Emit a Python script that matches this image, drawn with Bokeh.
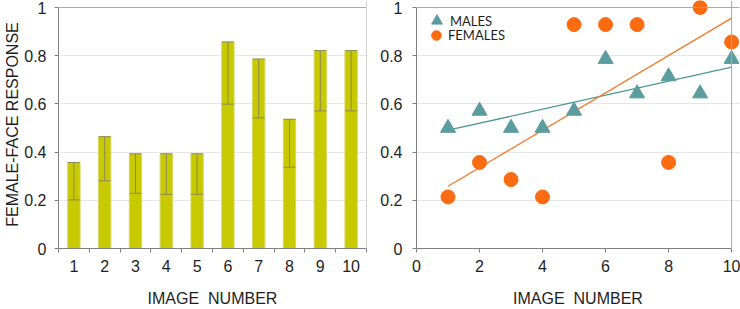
from bokeh.plotting import figure
from bokeh.layouts import row
from bokeh.models import (ColumnDataSource, Whisker, TeeHead, FixedTicker, Span, Legend)
from bokeh.embed import file_html
from bokeh.resources import INLINE
import numpy as np

# ---------------- data ----------------
images = [1, 2, 3, 4, 5, 6, 7, 8, 9, 10]
response = [0.357, 0.464, 0.393, 0.393, 0.393, 0.857, 0.786, 0.536, 0.821, 0.821]
response_low = [0.202, 0.281, 0.229, 0.225, 0.225, 0.599, 0.542, 0.337, 0.571, 0.571]

males = [0.5, 0.571, 0.5, 0.5, 0.571, 0.786, 0.643, 0.714, 0.643, 0.786]
females = [0.214, 0.357, 0.286, 0.214, 0.929, 0.929, 0.929, 0.357, 1.0, 0.857]

y_ticks = [0, 0.2, 0.4, 0.6, 0.8, 1]
y_labels = {0: "0", 0.2: "0.2", 0.4: "0.4", 0.6: "0.6", 0.8: "0.8", 1: "1"}
x_ticks_right = [0, 2, 4, 6, 8, 10]

# ---------------- styles ----------------
AXIS = "#808080"
BORDER = "#a8a8a8"
GRID = "#e6e6e6"
TXT = "#1e1e1e"
FONT = "Liberation Sans"
BAR = "#c9c900"
BAR_EDGE = "#d6d660"
ERR = "#8a8a58"
TEAL = "#5b9c9e"
TEAL_LINE = "#4f9696"
ORANGE = "#fb6b12"
ORANGE_LINE = "#f47a28"

Y_END = 1.029


def style_axes(p):
    for ax in (p.xaxis[0], p.yaxis[0]):
        ax.axis_line_color = AXIS
        ax.major_tick_line_color = AXIS
        ax.minor_tick_line_color = AXIS
        ax.major_label_text_font = FONT
        ax.major_label_text_font_size = "16px"
        ax.major_label_text_color = TXT
        ax.axis_label_text_font = FONT
        ax.axis_label_text_font_size = "16px"
        ax.axis_label_text_font_style = "normal"
        ax.axis_label_text_color = TXT
    p.yaxis.ticker = FixedTicker(ticks=y_ticks)
    p.yaxis.major_label_overrides = y_labels
    p.yaxis.bounds = (0, 1)
    p.yaxis.major_tick_out = 4
    p.yaxis.major_tick_in = 0
    p.yaxis.minor_tick_out = 0
    p.yaxis.major_label_standoff = 10
    p.xaxis.major_label_standoff = 7
    p.xaxis.axis_label_standoff = 15
    p.ygrid.grid_line_color = GRID
    p.xgrid.grid_line_color = None
    p.outline_line_color = None
    p.background_fill_color = "white"
    p.border_fill_color = "white"


# ---------------- left chart ----------------
p1 = figure(width=370, height=309, output_backend="svg", toolbar_location=None,
            x_range=(0.5, 10.5), y_range=(0, Y_END),
            min_border_left=58, min_border_right=4, min_border_top=0, min_border_bottom=61)
src = ColumnDataSource(dict(x=images, top=response, low=response_low))
p1.vbar(x="x", top="top", width=0.4, source=src, fill_color=BAR, line_color=BAR_EDGE, line_width=1)
p1.add_layout(Whisker(base="x", upper="top", lower="low", source=src, line_color=ERR, line_width=1,
                      level="overlay",
                      upper_head=TeeHead(size=12, line_color=ERR, line_width=1),
                      lower_head=TeeHead(size=12, line_color=ERR, line_width=1)))
style_axes(p1)
p1.xaxis.ticker = FixedTicker(ticks=images, minor_ticks=[i + 0.5 for i in range(0, 11)])
p1.xaxis.major_tick_out = 0
p1.xaxis.major_tick_in = 0
p1.xaxis.minor_tick_out = 4
p1.xaxis.minor_tick_in = 0
p1.xaxis.bounds = (0.5, 10.5)
p1.xaxis.axis_label = "IMAGE\u00a0 NUMBER"
p1.yaxis.axis_label = "FEMALE-FACE RESPONSE"
p1.yaxis.axis_label_text_font_size = "16px"
p1.yaxis.major_label_standoff = 8
p1.yaxis.axis_label_standoff = 0
p1.add_layout(Span(location=1, dimension="width", line_color=BORDER, line_width=1))
p1.add_layout(Span(location=10.5, dimension="height", line_color=BORDER, line_width=1))

# ---------------- right chart ----------------
p2 = figure(width=370, height=309, output_backend="svg", toolbar_location=None,
            x_range=(0, 10.25), y_range=(0, Y_END),
            min_border_left=46, min_border_right=1, min_border_top=0, min_border_bottom=61)
style_axes(p2)
p2.xaxis.ticker = FixedTicker(ticks=x_ticks_right)
p2.xaxis.major_tick_out = 4
p2.xaxis.major_tick_in = 0
p2.xaxis.minor_tick_out = 0
p2.xaxis.bounds = (0, 10)
p2.xaxis.axis_label = "IMAGE\u00a0 NUMBER"
p2.add_layout(Span(location=1, dimension="width", line_color=BORDER, line_width=1))
p2.add_layout(Span(location=10, dimension="height", line_color=BORDER, line_width=1))

xa = np.array(images, dtype=float)
mm, mb = np.polyfit(xa, np.array(males), 1)
fm, fb = np.polyfit(xa, np.array(females), 1)
xl = [images[0], images[-1]]
p2.line(xl, [mm * v + mb for v in xl], line_color=TEAL_LINE, line_width=1.3)
p2.line(xl, [fm * v + fb for v in xl], line_color=ORANGE_LINE, line_width=1.3)

r_m = p2.scatter(images, males, marker="triangle", size=15, fill_color=TEAL, line_color=TEAL)
r_f = p2.scatter(images, females, marker="circle", size=14, fill_color=ORANGE, line_color=ORANGE)

leg_common = dict(border_line_color=None, background_fill_alpha=0, padding=0, margin=0, spacing=0,
                  label_standoff=0, label_text_font="Lato", label_text_font_size="13px",
                  label_text_color=TXT)
legend_m = Legend(items=[("MALES", [r_m])], location=(7, 214),
                  glyph_width=27, glyph_height=27, label_height=15, **leg_common)
legend_f = Legend(items=[("FEMALES", [r_f])], location=(8, 201),
                  glyph_width=24, glyph_height=24, label_height=15, **leg_common)
p2.add_layout(legend_m)
p2.add_layout(legend_f)

layout = row(p1, p2)

open("out.html", "w").write(file_html(layout, INLINE))
